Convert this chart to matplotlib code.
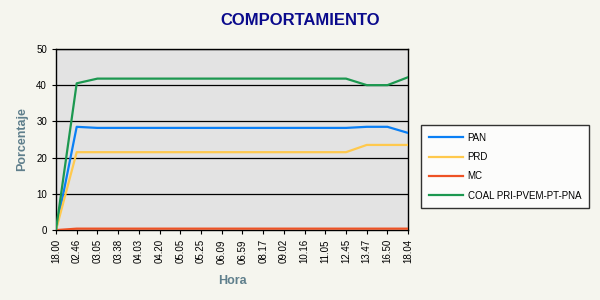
import matplotlib
matplotlib.use("Agg")
import matplotlib.pyplot as plt

horas = ["18.00", "02.46", "03.05", "03.38", "04.03", "04.20", "05.05", "05.25", "06.09",
         "06.59", "08.17", "09.02", "10.16", "11.05", "12.45", "13.47", "16.50", "18.04"]
pan = [0, 28.5, 28.2, 28.2, 28.2, 28.2, 28.2, 28.2, 28.2, 28.2, 28.2, 28.2, 28.2, 28.2, 28.2, 28.5, 28.5, 26.8]
prd = [0, 21.5, 21.5, 21.5, 21.5, 21.5, 21.5, 21.5, 21.5, 21.5, 21.5, 21.5, 21.5, 21.5, 21.5, 23.5, 23.5, 23.5]
mc = [0, 0.4, 0.4, 0.4, 0.4, 0.4, 0.4, 0.4, 0.4, 0.4, 0.4, 0.4, 0.4, 0.4, 0.4, 0.4, 0.4, 0.4]
coal = [0, 40.5, 41.8, 41.8, 41.8, 41.8, 41.8, 41.8, 41.8, 41.8, 41.8, 41.8, 41.8, 41.8, 41.8, 40.0, 40.0, 42.2]

series = [("PAN", pan, "#0A7FF5"), ("PRD", prd, "#FFC94D"),
          ("MC", mc, "#EE5224"), ("COAL PRI-PVEM-PT-PNA", coal, "#1C9850")]

plt.rcParams['font.family'] = ['Liberation Sans', 'DejaVu Sans']
bg = "#F5F5EE"
fig = plt.figure(figsize=(6, 3), dpi=100, facecolor=bg)
ax = fig.add_axes([0.0933, 0.233, 0.587, 0.604])
ax.set_facecolor("#E3E3E3")

x = list(range(len(horas)))
for name, vals, col in series:
    ax.plot(x, vals, color=col, lw=1.6, label=name, zorder=3)

ax.set_xlim(0, len(horas) - 1)
ax.set_ylim(0, 50)
ax.set_yticks([0, 10, 20, 30, 40, 50])
ax.set_xticks(x)
ax.set_xticklabels(horas, rotation=90, fontsize=7)
ax.tick_params(axis='y', labelsize=7, length=3, width=0.8)
ax.tick_params(axis='x', length=3, width=0.8)
ax.yaxis.grid(True, color="black", lw=0.9, zorder=1)
ax.set_axisbelow(True)
for s in ax.spines.values():
    s.set_linewidth(1.0)
    s.set_color("black")

fig.text(0.5, 0.932, "COMPORTAMIENTO", ha="center", va="center", fontsize=12,
         fontweight="bold", color="#0A0A8C")
ax.set_ylabel("Porcentaje", fontsize=9, fontweight="bold", color="#5F7F8C", labelpad=6)
ax.set_xlabel("Hora", fontsize=9, fontweight="bold", color="#5F7F8C", labelpad=8)

leg = fig.legend(loc="upper left", bbox_to_anchor=(0.7017, 0.583), fontsize=7,
                 frameon=True, fancybox=False, edgecolor="black", facecolor="white",
                 handlelength=3.5, labelspacing=0.95, borderpad=0.8, handletextpad=0.5,
                 borderaxespad=0)
leg.get_frame().set_linewidth(1.0)

fig.savefig("out.png", dpi=100, facecolor=bg)
